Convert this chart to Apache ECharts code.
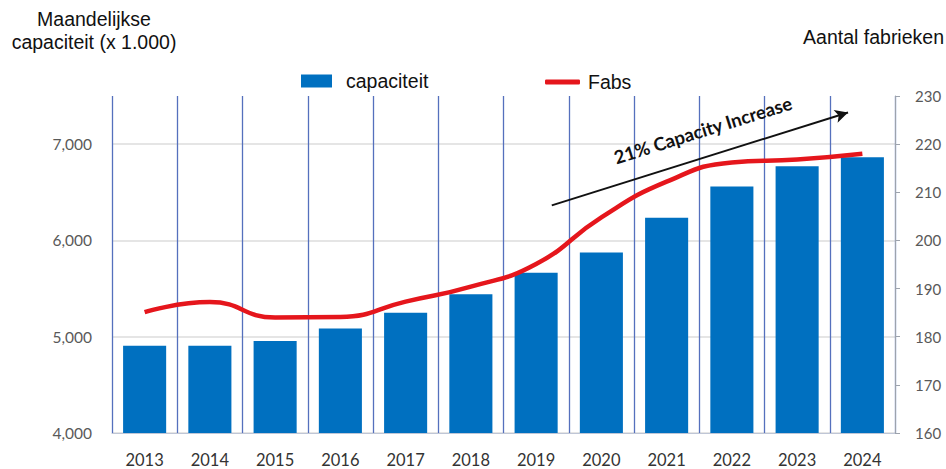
<!DOCTYPE html>
<html><head><meta charset="utf-8">
<script src="https://cdn.jsdelivr.net/npm/echarts@6/dist/echarts.min.js"></script>
<style>html,body{margin:0;padding:0;background:#fff}#c{width:946px;height:469px}</style>
</head><body><div id="c"></div>
<script>
const years = ['2013','2014','2015','2016','2017','2018','2019','2020','2021','2022','2023','2024'];
const capaciteit = [4905, 4905, 4955, 5085, 5250, 5440, 5665, 5875, 6235, 6560, 6770, 6865];
const fabs = [185.1, 187.2, 184.0, 184.1, 187.3, 190.4, 195.1, 204.8, 212.2, 216.2, 216.8, 218.0];
const arrowStart = [6.24, 6364];
const arrowEnd = [10.78, 7329];
const arrowText = '21% Capacity Increase';
const leftTitle = ['Maandelijkse', 'capaciteit (x 1.000)'];
const rightTitle = 'Aantal fabrieken';

const chart = echarts.init(document.getElementById('c'), null, {renderer: 'svg'});
const axisFont = 'Lato, "Open Sans", sans-serif';
const txtFont = '"Liberation Sans", Arial, sans-serif';

chart.setOption({
  animation: false,
  backgroundColor: '#fff',
  grid: {left: 112, right: 51, top: 96, bottom: 36, containLabel: false},
  graphic: [
    {type: 'text', x: 94, y: 19, style: {text: leftTitle[0], font: '19.5px ' + txtFont, fill: '#111', textAlign: 'center', textVerticalAlign: 'middle'}},
    {type: 'text', x: 94, y: 42, style: {text: leftTitle[1], font: '19.5px ' + txtFont, fill: '#111', textAlign: 'center', textVerticalAlign: 'middle'}},
    {type: 'text', x: 944, y: 37, style: {text: rightTitle, font: '19.5px ' + txtFont, fill: '#111', textAlign: 'right', textVerticalAlign: 'middle'}}
  ],
  legend: [
    {data: [{name: 'capaciteit', icon: 'rect'}], left: 296, top: 66, itemWidth: 31, itemHeight: 13, selectedMode: false,
     textStyle: {fontFamily: txtFont, fontSize: 19.5, color: '#111', padding: [0, 0, 0, 9]}},
    {data: [{name: 'Fabs', icon: 'roundRect'}], left: 540, top: 67, itemWidth: 35, itemHeight: 5, selectedMode: false,
     textStyle: {fontFamily: txtFont, fontSize: 19.5, color: '#111', padding: [0, 0, 5, 3]}}
  ],
  xAxis: [
    {type: 'category', data: years, boundaryGap: true,
     axisLine: {show: true, lineStyle: {color: '#bfc6d6', width: 1}},
     axisTick: {show: false},
     axisLabel: {margin: 18, fontFamily: axisFont, fontSize: 16.5, color: '#333'},
     splitLine: {show: true, lineStyle: {color: '#5570bd', width: 1.3}}},
    {type: 'value', min: -0.5, max: 11.5, show: false}
  ],
  yAxis: [
    {type: 'value', min: 4000, max: 7500, interval: 1000, position: 'left',
     axisLine: {show: false}, axisTick: {show: false},
     axisLabel: {margin: 20, showMaxLabel: false, fontFamily: axisFont, fontSize: 15.5, color: '#595959',
       formatter: v => v.toLocaleString('en-US')},
     splitLine: {show: true, showMaxLine: false, lineStyle: {color: '#dcdcdc', width: 1.5}}},
    {type: 'value', min: 160, max: 230, interval: 10, position: 'right',
     axisLine: {show: true, lineStyle: {color: '#9da3ad', width: 1}},
     axisTick: {show: true, length: 5, lineStyle: {color: '#9da3ad'}},
     axisLabel: {margin: 20, fontFamily: axisFont, fontSize: 15, color: '#595959'},
     splitLine: {show: false}}
  ],
  series: [
    {name: 'capaciteit', type: 'bar', data: capaciteit, barWidth: '66%', xAxisIndex: 0, yAxisIndex: 0,
     itemStyle: {color: '#0070c0'}, z: 2},
    {name: 'Fabs', type: 'line', data: fabs, xAxisIndex: 0, yAxisIndex: 1, smooth: 0.5, symbol: 'none',
     itemStyle: {color: '#e5161c'}, lineStyle: {color: '#e5161c', width: 4.5}, z: 4},
    {name: 'arrow', type: 'line', data: [], xAxisIndex: 1, yAxisIndex: 0, z: 5,
     markLine: {silent: true, symbol: ['none', 'arrow'], symbolSize: [10, 13],
       lineStyle: {color: '#111', width: 2, type: 'solid'},
       label: {show: true, position: 'insideMiddleTop', distance: 18, formatter: arrowText,
         fontFamily: axisFont, fontWeight: 'bold', fontSize: 18.5, color: '#111', offset: [6, 0]},
       data: [[{coord: arrowStart}, {coord: arrowEnd}]]}}
  ]
});
</script></body></html>
